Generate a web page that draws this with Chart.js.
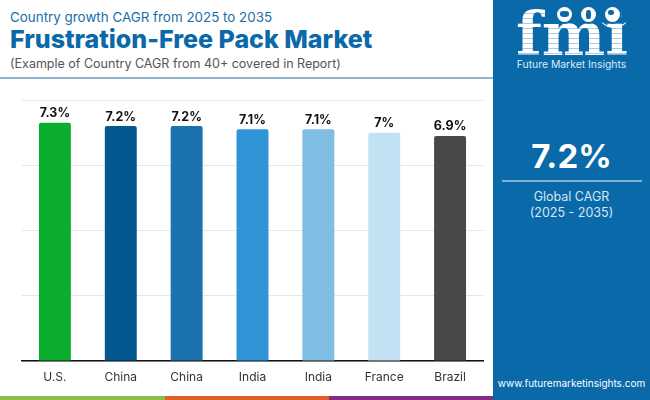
<!DOCTYPE html>
<html>
<head>
<meta charset="utf-8">
<script src="https://cdn.jsdelivr.net/npm/chart.js@4"></script>
<style>
  html, body { margin: 0; padding: 0; background: #fff; }
  body { width: 650px; height: 400px; position: relative; overflow: hidden; font-family: "Inter", "Noto Sans", sans-serif; }
  .abs { position: absolute; white-space: nowrap; }
  #chart-wrap { position: absolute; left: 0; top: 80px; width: 493px; height: 316px; }
  #side { position: absolute; left: 493px; top: 0; width: 157px; height: 400px; background: #0a69a8; color: #fff; }
  .strip { position: absolute; top: 396px; height: 4px; }
  .logo {
    font-family: "DejaVu Serif", serif; font-weight: 700; font-size: 60px; line-height: 60px;
    background: repeating-linear-gradient(180deg, #fff 0 4px, #a9cde6 4px 5px);
    -webkit-background-clip: text; background-clip: text; color: transparent;
  }
  .globe { position: absolute; top: 7px; width: 15px; height: 15px; border-radius: 50%; background: #fff; box-shadow: 0 0 0 2px #0a69a8; }
  .globe i { position: absolute; background: #0a69a8; border-radius: 40%; }
</style>
</head>
<body>
  <div class="abs" style="left:10px;top:9px;font-size:13.4px;color:#1a6ea8;">Country growth CAGR from 2025 to 2035</div>
  <div class="abs" style="left:10px;top:24px;font-size:25px;font-weight:800;color:#0a69a8;">Frustration-Free Pack Market</div>
  <div class="abs" style="left:10px;top:56px;font-size:12.5px;color:#555;">(Example of Country CAGR from 40+ covered in Report)</div>
  <div class="abs" style="left:0;top:77px;width:493px;height:2px;background:#8fb3d0;"></div>

  <div id="chart-wrap"><canvas id="cagrChart"></canvas></div>

  <div id="side">
    <div class="abs logo" style="left:23px;top:4px;">fmi</div>
    <div class="globe" style="left:64px;"><i style="left:3px;top:4px;width:9px;height:6px;"></i></div>
    <div class="globe" style="left:88px;"><i style="left:5px;top:3px;width:5px;height:9px;"></i></div>
    <div class="globe" style="left:112px;"><i style="left:3px;top:3px;width:6px;height:5px;"></i></div>
    <div class="abs" style="left:104px;top:-6px;width:32px;height:32px;border-radius:50%;border:1px solid transparent;border-bottom-color:#fff;"></div>
    <div class="abs" style="left:0;width:157px;text-align:center;top:58px;font-size:10.4px;color:#dcecf7;">Future Market Insights</div>
    <div class="abs" style="left:0;width:157px;text-align:center;top:136px;font-size:33px;font-weight:700;">7.2%</div>
    <div class="abs" style="left:9px;top:180px;width:140px;height:2px;background:#7fb2d8;"></div>
    <div class="abs" style="left:0;width:157px;text-align:center;top:189px;font-size:12.5px;line-height:16px;color:#d5e6f3;">Global CAGR<br>(2025 - 2035)</div>
    <div class="abs" style="left:0;width:157px;text-align:center;top:377px;font-size:10px;">www.futuremarketinsights.com</div>
  </div>

  <div class="strip" style="left:0;width:165px;background:#8cbd45;"></div>
  <div class="strip" style="left:165px;width:164px;background:#e25c2c;"></div>
  <div class="strip" style="left:329px;width:164px;background:#862b86;"></div>

<script>
const categories = ['U.S.', 'China', 'China', 'India', 'India', 'France', 'Brazil'];
const cagrValues = [7.3, 7.2, 7.2, 7.1, 7.1, 7.0, 6.9];
const valueLabels = ['7.3%', '7.2%', '7.2%', '7.1%', '7.1%', '7%', '6.9%'];
const barColors = ['#0bad2d', '#03588f', '#1a73ae', '#3094d6', '#7fbde3', '#c2e1f2', '#484848'];
const yTicks = [0, 2, 4, 6, 8];

// draws the "7.3%" labels over the bars
const valueLabelPlugin = {
  id: 'valueLabels',
  afterDatasetsDraw(chart) {
    const ctx = chart.ctx;
    const meta = chart.getDatasetMeta(0);
    ctx.save();
    ctx.font = '700 12.5px Inter, "Noto Sans", sans-serif';
    ctx.fillStyle = '#111';
    ctx.textAlign = 'center';
    ctx.textBaseline = 'bottom';
    meta.data.forEach((bar, i) => {
      ctx.fillText(valueLabels[i], bar.x, bar.y - 3);
    });
    ctx.restore();
  }
};

new Chart(document.getElementById('cagrChart').getContext('2d'), {
  type: 'bar',
  data: {
    labels: categories,
    datasets: [{
      data: cagrValues,
      backgroundColor: barColors,
      borderWidth: 0,
      borderRadius: { topLeft: 2, topRight: 2 },
      borderSkipped: 'bottom',
      categoryPercentage: 1,
      barPercentage: 0.485
    }]
  },
  plugins: [valueLabelPlugin],
  options: {
    responsive: true,
    maintainAspectRatio: false,
    animation: false,
    layout: { padding: { left: 22, right: 10, top: 20, bottom: 0 } },
    plugins: { legend: { display: false }, tooltip: { enabled: false } },
    scales: {
      y: {
        min: 0,
        max: 8,
        afterBuildTicks(axis) { axis.ticks = yTicks.map(v => ({ value: v })); },
        ticks: { display: false },
        border: { display: false },
        grid: { color: '#e6e6e6', lineWidth: 1, drawTicks: false }
      },
      x: {
        afterFit(axis) { axis.height = 35; },
        border: { display: true, color: '#111', width: 1.5 },
        grid: { display: false, drawTicks: false },
        ticks: { color: '#333', font: { size: 12, family: 'Inter, "Noto Sans", sans-serif' }, padding: 9 }
      }
    }
  }
});
</script>
</body>
</html>
